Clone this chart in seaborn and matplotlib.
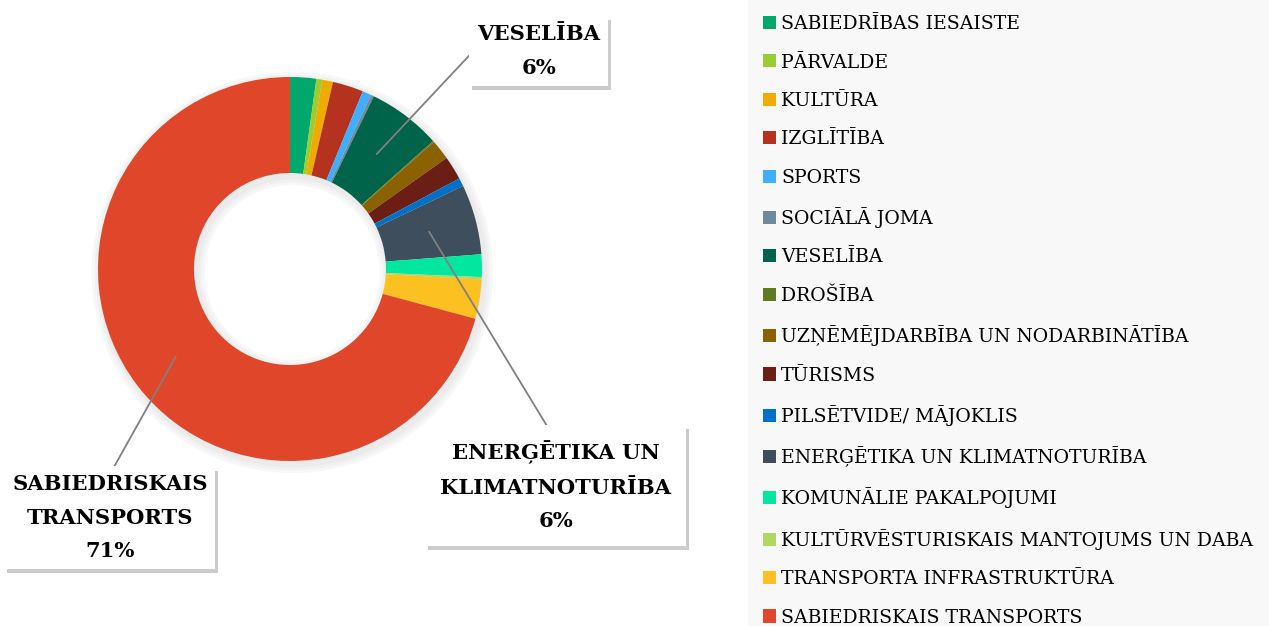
import matplotlib
matplotlib.use("Agg")
import matplotlib.pyplot as plt
import matplotlib.patheffects as pe
from matplotlib.patches import Patch, Rectangle
import numpy as np
import seaborn as sns

# Nozares un to daļa (%)
categories = [
    "SABIEDRĪBAS IESAISTE", "PĀRVALDE", "KULTŪRA", "IZGLĪTĪBA", "SPORTS",
    "SOCIĀLĀ JOMA", "VESELĪBA", "DROŠĪBA", "UZŅĒMĒJDARBĪBA UN NODARBINĀTĪBA",
    "TŪRISMS", "PILSĒTVIDE/ MĀJOKLIS", "ENERĢĒTIKA UN KLIMATNOTURĪBA",
    "KOMUNĀLIE PAKALPOJUMI", "KULTŪRVĒSTURISKAIS MANTOJUMS UN DABA",
    "TRANSPORTA INFRASTRUKTŪRA", "SABIEDRISKAIS TRANSPORTS",
]
shares = [2.2, 0.5, 0.9, 2.6, 0.75, 0.25, 6.2, 0.1, 1.7, 2.0, 0.7, 5.9,
          1.9, 0.2, 3.3, 70.9]
colors = ["#00A86B", "#9ACD32", "#F0AB00", "#B5321F", "#3FAEFF", "#6E8B9E",
          "#00644A", "#5E7B22", "#8A6300", "#6B1E14", "#0070C8", "#3F4E5C",
          "#00E8A0", "#B0D860", "#FCC020", "#E0472A"]

# iezīmētie sektori: nosaukums -> (teksts, pozīcija, līnijas piesaiste, atkāpe)
callouts = {
    "VESELĪBA": ("VESELĪBA\n6%", (0.4247, 0.9185), (0.0, 0.58), 0.38),
    "ENERĢĒTIKA UN KLIMATNOTURĪBA": ("ENERĢĒTIKA UN\nKLIMATNOTURĪBA\n6%",
                                     (0.4381, 0.2236), (0.5, 1.0), 0.7),
    "SABIEDRISKAIS TRANSPORTS": ("SABIEDRISKAIS\nTRANSPORTS\n71%",
                                 (0.0867, 0.1733), (0.5, 1.0), 0.36),
}

sns.set_style("white")
plt.rcParams["font.family"] = ["DejaVu Serif"]

fig = plt.figure(figsize=(12.69, 6.26), dpi=100)
ax = fig.add_axes([0.0772, 0.2636, 0.3026, 0.6134])

palette = sns.color_palette(colors)

# maiga ēna zem gredzena
for k, a in enumerate([0.025, 0.025, 0.03]):
    ax.pie([1], colors=["#000000"], radius=1.0 + 0.015 * (k + 1),
           center=(0.012, -0.018), startangle=90,
           wedgeprops=dict(width=0.5 + 0.03 * (k + 1), alpha=a, linewidth=0))

wedges, _ = ax.pie(shares, colors=palette, startangle=90, counterclock=False,
                   radius=1.0, wedgeprops=dict(width=0.5, linewidth=0))
ax.set_xlim(-1.0, 1.0)
ax.set_ylim(-1.0, 1.0)
ax.set_aspect("equal")
ax.axis("off")

for w, name in zip(wedges, categories):
    if name not in callouts:
        continue
    label, (tx, ty), rel, pad = callouts[name]
    ang = np.deg2rad((w.theta1 + w.theta2) / 2)
    px, py = 0.75 * np.cos(ang), 0.75 * np.sin(ang)
    t = ax.annotate(label, xy=(px, py), xycoords="data",
                    xytext=(tx, ty), textcoords="figure fraction",
                    ha="center", va="center", fontsize=15.2, color="black",
                    fontweight="bold", linespacing=1.84, annotation_clip=False,
                    bbox=dict(boxstyle=f"square,pad={pad}", fc="white", ec="none"),
                    arrowprops=dict(arrowstyle="-", color="#808080", lw=1.3,
                                    shrinkA=0, shrinkB=0, relpos=rel))
    t.get_bbox_patch().set_path_effects(
        [pe.withSimplePatchShadow(offset=(2, -3), shadow_rgbFace="#000000", alpha=0.2)])

# leģendas fons līdz labajai malai
fig.patches.append(Rectangle((0.5894, 0.0), 1 - 0.5894, 1.0, transform=fig.transFigure,
                             facecolor="#F8F8F8", edgecolor="none", zorder=0))

handles = [Patch(facecolor=c, edgecolor="none") for c in palette]
leg = fig.legend(handles, categories, loc="upper left",
                 bbox_to_anchor=(0.5894, 1.0), frameon=False, fontsize=13.6,
                 handlelength=0.69, handleheight=0.69, handletextpad=0.26,
                 labelspacing=1.08, borderaxespad=0, borderpad=0.8,
                 labelcolor="black")

fig.savefig("out.png", dpi=100, facecolor="white")
